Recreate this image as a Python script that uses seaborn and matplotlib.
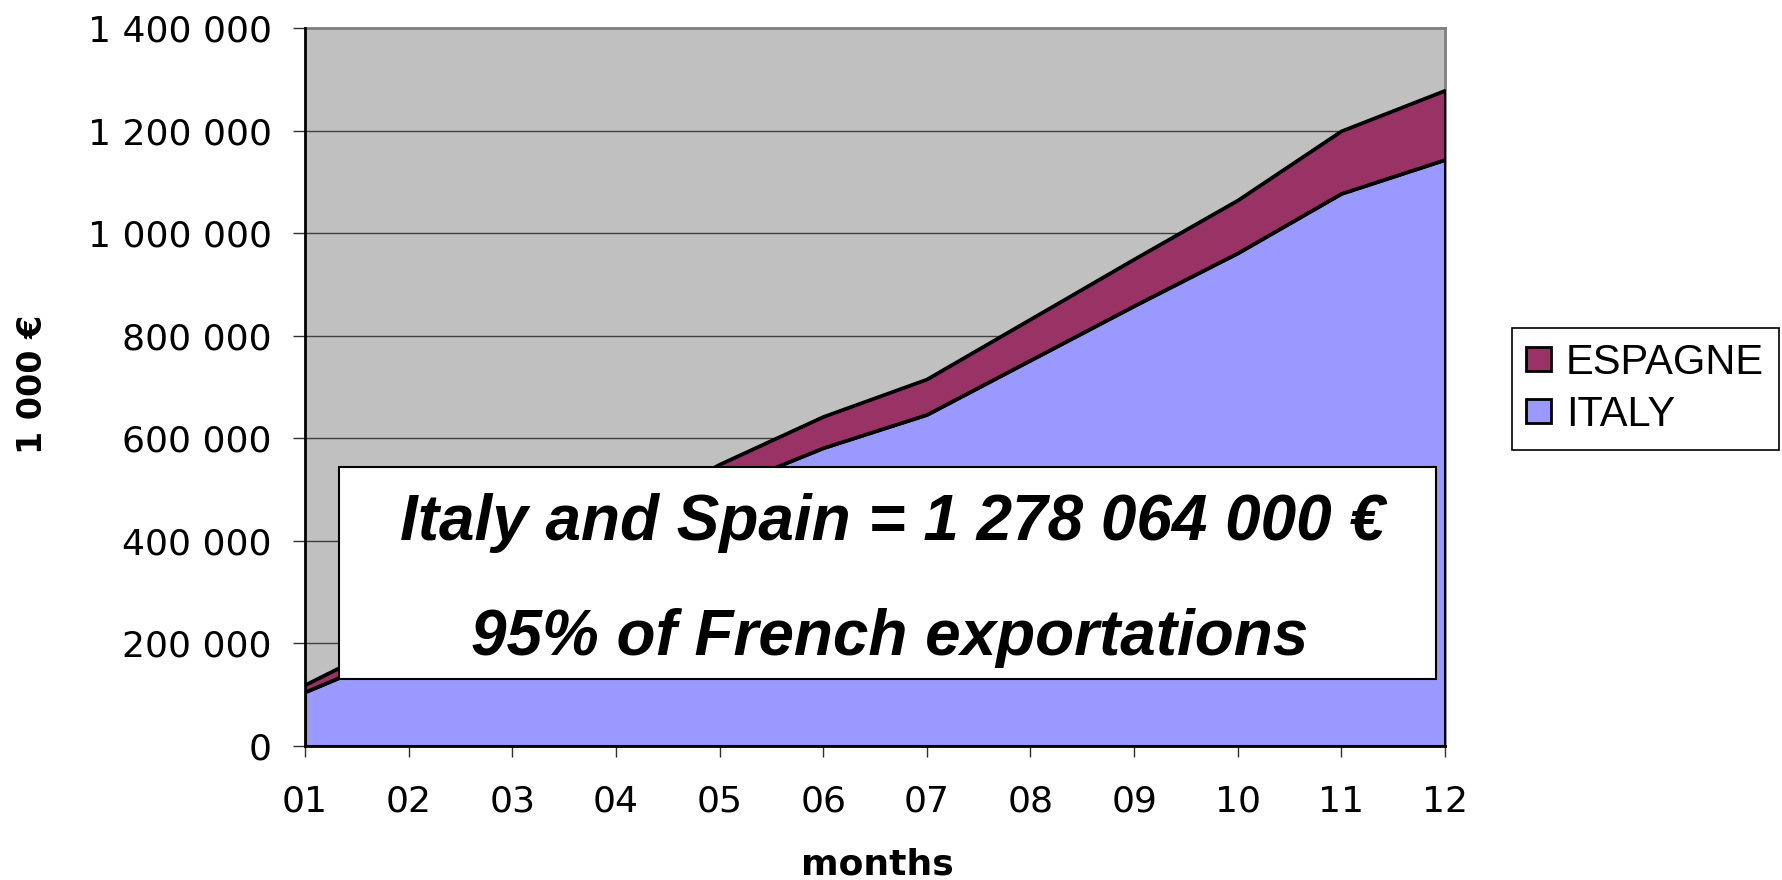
import numpy as np
import pandas as pd
import seaborn as sns
import matplotlib.pyplot as plt
from matplotlib.patches import Patch, Rectangle

# Data (thousands of euros)
months = ["01", "02", "03", "04", "05", "06", "07", "08", "09", "10", "11", "12"]
italy = [105000, 190000, 290000, 395000, 499000, 581000, 646000, 752000, 858000, 961000, 1077000, 1143000]
espagne = [14000, 30000, 40000, 45000, 50000, 61000, 69000, 80000, 91000, 103000, 122000, 135064]
yticks = [0, 200000, 400000, 600000, 800000, 1000000, 1200000, 1400000]

sns.set_theme(style="white")
plt.rcParams["font.family"] = ["DejaVu Sans"]
plt.rcParams["text.color"] = "black"
plt.rcParams["xtick.labelcolor"] = "black"
plt.rcParams["ytick.labelcolor"] = "black"

df = pd.DataFrame({"month": months, "ITALY": italy, "ESPAGNE": espagne})
df["pos"] = np.arange(len(df))
df["total"] = df["ITALY"] + df["ESPAGNE"]

fig = plt.figure(figsize=(17.83, 8.80), dpi=100)
ax = fig.add_axes([305 / 1783, 1 - 746 / 880, 1140 / 1783, 718 / 880])
ax.set_facecolor("#C0C0C0")

c_it = "#9999FF"
c_es = "#993366"
ax.fill_between(df["pos"], 0, df["ITALY"], facecolor=c_it, edgecolor="black", lw=2.2, zorder=2)
ax.fill_between(df["pos"], df["ITALY"], df["total"], facecolor=c_es, edgecolor="black", lw=2.2, zorder=2)

lines = df.melt(id_vars="pos", value_vars=["ITALY", "total"], var_name="s", value_name="v")
sns.lineplot(data=lines, x="pos", y="v", units="s", estimator=None, color="black",
             lw=2.2, legend=False, ax=ax, zorder=3)

ax.set_xlim(0, 11)
ax.set_ylim(0, 1400000)
ax.set_xticks(df["pos"])
ax.set_xticklabels(months)
ax.set_yticks(yticks)
ax.set_yticklabels([f"{v:,}".replace(",", " ") for v in yticks])
ax.set_xlabel("")
ax.set_ylabel("")
ax.tick_params(axis="both", labelsize=26, colors="#303030", labelcolor="black")
ax.tick_params(axis="x", direction="out", length=8, width=1, pad=20, bottom=True)
ax.tick_params(axis="y", direction="out", length=9, width=1, pad=15, left=True)

ax.yaxis.grid(True, color="#404040", lw=1)
ax.set_axisbelow(True)
for s in ["left", "bottom"]:
    ax.spines[s].set_color("black")
    ax.spines[s].set_linewidth(2)
for s in ["top", "right"]:
    ax.spines[s].set_color("#808080")
    ax.spines[s].set_linewidth(2)
    ax.spines[s].set_zorder(1)

# annotation box
ax.add_patch(Rectangle((0.0301, 0.0929), 0.9617, 0.2953, transform=ax.transAxes,
                       facecolor="white", edgecolor="black", lw=1.5, zorder=5))
big = dict(family="Liberation Sans", weight="bold", style="italic", fontsize=46,
           color="black", ha="center", va="baseline", transform=ax.transAxes, zorder=6)
ax.text(0.515, 0.287, "Italy and Spain = 1 278 064 000 €", **big)
ax.text(0.513, 0.127, "95% of French exportations", **big)

fig.text(33 / 1783, 1 - 384 / 880, "1 000 €", rotation=90, ha="center", va="center",
         fontsize=24, fontweight="bold", color="black")
fig.text(877 / 1783, 1 - 864 / 880, "months", ha="center", va="center",
         fontsize=26, fontweight="bold", color="black")

handles = [Patch(facecolor=c_es, edgecolor="black", lw=2, label="ESPAGNE"),
           Patch(facecolor=c_it, edgecolor="black", lw=2, label="ITALY")]
leg = fig.legend(handles=handles, loc="upper left", bbox_to_anchor=(1511.7 / 1783, 1 - 328 / 880),
                 prop={"family": "Liberation Sans", "size": 30}, frameon=True, fancybox=False,
                 framealpha=1, edgecolor="black", borderaxespad=0, borderpad=0.35,
                 handlelength=0.6, handleheight=0.5, handletextpad=0.35, labelspacing=0.3)
leg.get_frame().set_linewidth(1.2)
for t in leg.get_texts():
    t.set_color("black")

fig.savefig("out.png", dpi=100)
